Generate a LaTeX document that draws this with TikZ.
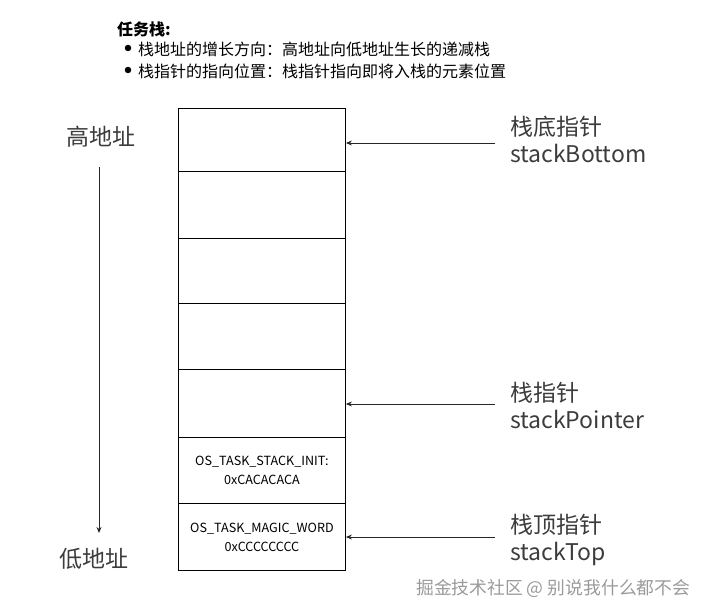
\documentclass[tikz,border=0pt]{standalone}
\usepackage{fontspec}
\setmainfont{Noto Sans CJK SC}
\newfontfamily\cjk{Noto Sans CJK SC}
\usetikzlibrary{arrows.meta}
\definecolor{labelgray}{HTML}{3C3C3C}
\definecolor{markgray}{HTML}{9A9A9A}
\tikzset{
  cell/.style={draw=black, line width=0.9pt, minimum width=167pt, inner sep=0pt, anchor=north west},
  bigtext/.style={font=\cjk\fontsize{23}{27}\selectfont, text=labelgray, inner sep=0pt, anchor=west, align=left},
  celltext/.style={font=\cjk\fontsize{12.6}{19}\selectfont, align=center, inner sep=0pt},
  note/.style={font=\cjk\fontsize{16}{18}\selectfont, inner sep=0pt, anchor=west},
  dot/.style={circle, fill=black, inner sep=0pt, minimum size=6.5pt},
  ptr/.style={draw=black!85, line width=0.8pt, -{Stealth[length=6pt,width=5pt]}},
}
\begin{document}
\begin{tikzpicture}[x=1pt,y=-1pt]
\useasboundingbox (0,0) rectangle (708,615);
% title and notes
\node[note, font=\cjk\bfseries\fontsize{16}{18}\selectfont] (title) at (117,29) {任务栈:};
\node[dot] (d1) at (128,48) {};
\node[dot] (d2) at (128,70) {};
\node[note] (b1) at (138,49) {栈地址的增长方向：高地址向低地址生长的递减栈};
\node[note] (b2) at (138,71) {栈指针的指向位置：栈指针指向即将入栈的元素位置};
% stack cells
\node[cell, minimum height=63pt] (c1) at (178,108) {};
\node[cell, minimum height=67pt] (c2) at (178,171) {};
\node[cell, minimum height=65pt] (c3) at (178,238) {};
\node[cell, minimum height=66pt] (c4) at (178,303) {};
\node[cell, minimum height=68pt] (c5) at (178,369) {};
\node[cell, minimum height=66pt] (c6) at (178,437) {};
\node[cell, minimum height=67pt] (c7) at (178,503) {};
\node[celltext] (t6) at (c6.center) {OS\_TASK\_STACK\_INIT:\\0xCACACACA};
\node[celltext] (t7) at (c7.center) {OS\_TASK\_MAGIC\_WORD\\0xCCCCCCCC};
% left labels
\node[font=\cjk\fontsize{23}{27}\selectfont, text=labelgray, inner sep=0pt] (hi) at (101,137) {高地址};
\node[font=\cjk\fontsize{23}{27}\selectfont, text=labelgray, inner sep=0pt] (lo) at (94,559) {低地址};
\coordinate (atop) at (99,167);
\coordinate (abot) at (99,533);
\draw[ptr] (atop) -- (abot);
% right labels
\node[bigtext] (sb) at (510,139) {栈底指针\\stackBottom};
\node[bigtext] (sp) at (510,405) {栈指针\\stackPointer};
\node[bigtext] (st) at (510,540) {栈顶指针\\stackTop};
\coordinate (sbs) at (495,143);
\coordinate (sps) at (495,404);
\coordinate (sts) at (495,537);
\draw[ptr] (sbs) -- (sbs -| c1.east);
\draw[ptr] (sps) -- (sps -| c5.east);
\draw[ptr] (sts) -- (sts -| c7.east);
% watermark
\node[font=\cjk\fontsize{17.8}{20}\selectfont, text=markgray, inner sep=0pt, anchor=west] (wm) at (416,588) {掘金技术社区 @ 别说我什么都不会};
\end{tikzpicture}
\end{document}
